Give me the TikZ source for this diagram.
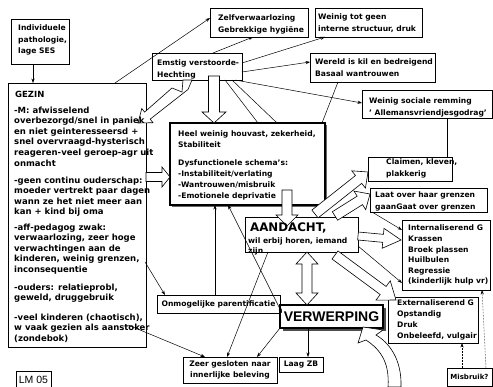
\documentclass[tikz,border=0pt]{standalone}
\usepackage{fontspec}
\setmainfont{DejaVu Sans}
\newfontfamily\vwfont{Liberation Sans}
\usetikzlibrary{calc,arrows.meta}
\tikzset{
 box/.style={draw=black, line width=0.6pt, anchor=north west, inner sep=0pt, outer sep=0pt, fill=white},
 txt/.style={anchor=north west, inner sep=0pt, align=left, font=\bfseries\fontsize{7.6}{11.5}\selectfont},
 txtm/.style={anchor=north west, inner sep=0pt, align=left, font=\bfseries\fontsize{7.6}{10.6}\selectfont},
 gtxt/.style={anchor=north west, inner sep=0pt, align=left, font=\bfseries\fontsize{8.5}{10.6}\selectfont},
 ctxt/.style={inner sep=0pt, align=center, font=\bfseries\fontsize{7.6}{11.5}\selectfont},
 con/.style={line width=0.5pt, -{Stealth[length=4.5pt,width=3.2pt]}},
 plainline/.style={line width=0.5pt},
 blk/.style={draw=black, fill=white, line width=0.6pt, line join=miter},
}
\newcommand\barrow[5]{%
 \coordinate (ba-s) at (#1);
 \coordinate (ba-e) at (#2);
 \coordinate (ba-h) at ($(ba-e)!#5!(ba-s)$);
 \filldraw[blk] ($(ba-s)!#3!90:(ba-e)$) -- ($(ba-h)!#3!90:(ba-e)$) -- ($(ba-h)!#4!90:(ba-e)$) -- (ba-e)
   -- ($(ba-h)!#4!-90:(ba-e)$) -- ($(ba-h)!#3!-90:(ba-e)$) -- ($(ba-s)!#3!-90:(ba-e)$) -- cycle;
}
\newcommand\dbarrow[5]{%
 \coordinate (db-s) at (#1);
 \coordinate (db-e) at (#2);
 \coordinate (db-h1) at ($(db-s)!#5!(db-e)$);
 \coordinate (db-h2) at ($(db-e)!#5!(db-s)$);
 \filldraw[blk] (db-s) -- ($(db-h1)!#4!90:(db-e)$) -- ($(db-h1)!#3!90:(db-e)$) -- ($(db-h2)!#3!90:(db-e)$)
   -- ($(db-h2)!#4!90:(db-e)$) -- (db-e) -- ($(db-h2)!#4!-90:(db-e)$) -- ($(db-h2)!#3!-90:(db-e)$)
   -- ($(db-h1)!#3!-90:(db-e)$) -- ($(db-h1)!#4!-90:(db-e)$) -- cycle;
}
\begin{document}
\begin{tikzpicture}[x=1pt,y=-1pt]
\useasboundingbox (0,0) rectangle (493,387);
\fill[white] (0,0) rectangle (493,387);
% ---------- boxes
\node[box, minimum width=58pt, minimum height=45pt] (indiv) at (11,19) {};
\node[box, minimum width=138pt, minimum height=264pt] (gezin) at (8,83) {};
\node[box, minimum width=98pt, minimum height=29pt] (zelf) at (210,8) {};
\node[box, minimum width=107pt, minimum height=29pt] (weinig) at (315,8) {};
\node[box, minimum width=90pt, minimum height=27pt] (emstig) at (152,53) {};
\node[box, minimum width=125pt, minimum height=29pt] (wereld) at (310,53) {};
\node[box, minimum width=130pt, minimum height=28pt] (sociale) at (362,90) {};
\fill[black!60] (172,125) rectangle (327,207);
\node[box, line width=1.4pt, minimum width=155pt, minimum height=82pt] (heel) at (170,123) {};
\node[box, minimum width=113pt, minimum height=35pt] (aandacht) at (245,217) {};
\node[box, minimum width=84pt, minimum height=24pt] (claimen) at (368,157) {};
\node[box, minimum width=117pt, minimum height=24pt] (laat) at (370,188) {};
\node[box, minimum width=88pt, minimum height=70pt] (intern) at (402,220) {};
\node[box, minimum width=90pt, minimum height=46pt] (extern) at (388,297) {};
\node[box, minimum width=45pt, minimum height=18pt] (misbruik) at (447,368) {};
\node[box, minimum width=123pt, minimum height=18pt] (onmog) at (157,295) {};
\fill[black!70] (283,308) rectangle (386,331);
\node[box, line width=2.2pt, minimum width=103pt, minimum height=23pt] (verwerp) at (280,305) {};
\node[box, minimum width=94pt, minimum height=26pt] (zeer) at (183,357) {};
\node[box, minimum width=44pt, minimum height=15pt] (laag) at (279,357) {};
\node[box, minimum width=35pt, minimum height=22pt] (lm) at (16,371) {};
% ---------- block arrows
\barrow{$(emstig.north west)+(62,23)$}{$(heel.north west)+(44,0)$}{5.5pt}{12pt}{11pt}
\barrow{$(gezin.north west)+(138,94)$}{$(heel.north west)+(0,54)$}{4.5pt}{10pt}{8pt}
\barrow{$(heel.north west)+(117,67)$}{$(aandacht.north west)+(42,9)$}{5pt}{11pt}{11pt}
\dbarrow{$(aandacht.north west)+(62,35)$}{$(verwerp.north west)+(27,0)$}{5pt}{11pt}{12pt}
\barrow{$(aandacht.north west)+(70,-3)$}{$(claimen.north west)+(0,15)$}{5pt}{11pt}{12pt}
\barrow{$(aandacht.north west)+(90,-1)$}{$(laat.north west)+(0,6)$}{5pt}{11pt}{12pt}
\barrow{$(aandacht.north west)+(113,19)$}{$(intern.north west)+(-1,20)$}{4pt}{10pt}{18pt}
\barrow{$(aandacht.north west)+(90,38)$}{$(extern.north west)+(8,3)$}{5pt}{12pt}{16pt}
% bent arrow from Emstig to Gezin
\filldraw[blk] ($(emstig.south west)+(31,0)$) -- ($(emstig.south west)+(30,12)$) -- ($(emstig.south west)+(20,8)$)
  -- ($(emstig.south west)+(-7.4,32.1)$) -- ($(emstig.south west)+(-10.2,28.5)$) -- ($(emstig.south west)+(-14,43)$)
  -- ($(emstig.south west)+(1,42.7)$) -- ($(emstig.south west)+(-1.8,39.1)$) -- ($(emstig.south west)+(36,9.5)$)
  -- ($(emstig.south west)+(40,0)$) -- cycle;
% curved arrow into Verwerping
\filldraw[blk] ($(verwerp.south east)+(-20,-1)$) -- ($(verwerp.south east)+(-25,15)$) -- ($(verwerp.south east)+(-17,12)$)
  .. controls ($(verwerp.south east)+(-5,20)$) and ($(verwerp.south east)+(7,32)$) .. ($(verwerp.south east)+(5,59)$)
  -- ($(verwerp.south east)+(18,59)$)
  .. controls ($(verwerp.south east)+(19,30)$) and ($(verwerp.south east)+(5,14)$) .. ($(verwerp.south east)+(-7,7)$)
  -- ($(verwerp.south east)+(0,2)$) -- cycle;
% ---------- texts
\node[txt] (indiv-t) at (18,25) {Individuele\\pathologie,\\lage SES};
\node[gtxt] (gezin-t0) at (15,90.5) {GEZIN};
\node[gtxt] (gezin-t1) at (14,106.5) {-M: afwisselend\\overbezorgd/snel in paniek\\en niet geinteresseersd +\\snel overvraagd-hysterisch\\reageren-veel geroep-agr uit\\onmacht};
\node[gtxt] (gezin-t2) at (14,176.5) {-geen continu ouderschap:\\moeder vertrekt paar dagen\\wann ze het niet meer aan\\kan + kind bij oma};
\node[gtxt] (gezin-t3) at (14,223.5) {-aff-pedagog zwak:\\verwaarlozing, zeer hoge\\verwachtingen aan de\\kinderen, weinig grenzen,\\inconsequentie};
\node[gtxt] (gezin-t4) at (14,283.5) {-ouders: relatieprobl,\\geweld, druggebruik};
\node[gtxt] (gezin-t5) at (14,313.5) {-veel kinderen (chaotisch),\\w vaak gezien als aanstoker\\(zondebok)};
\node[txt] (zelf-t) at (218,15) {Zelfverwaarlozing\\Gebrekkige hygiëne};
\node[txt] (weinig-t) at (318,14) {Weinig tot geen\\interne structuur, druk};
\node[txt] (emstig-t) at (157,60) {Emstig verstoorde-\\Hechting};
\node[txt] (wereld-t) at (315,59) {Wereld is kil en bedreigend\\Basaal wantrouwen};
\node[txt] (sociale-t) at (369,98) {Weinig sociale remming\\' Allemansvriendjesgodrag'};
\node[anchor=north west, inner sep=0pt, align=left, font=\bfseries\fontsize{7.6}{10.8}\selectfont] (heel-t) at (178,131)
  {Heel weinig houvast, zekerheid,\\Stabiliteit\\[7.4pt]Dysfunctionele schema's:\\-Instabiliteit/verlating\\-Wantrouwen/misbruik\\-Emotionele deprivatie};
\node[anchor=north west, inner sep=0pt, font=\bfseries\fontsize{11.8}{12}\selectfont] (aandacht-t1) at (250,223) {AANDACHT,};
\node[anchor=north west, inner sep=0pt, align=left, font=\bfseries\fontsize{7.6}{10}\selectfont] (aandacht-t2) at (248,238) {wil erbij horen, iemand\\zijn};
\node[txt] (claimen-t) at (386,159) {Claimen, kleven,\\plakkerig};
\node[txt] (laat-t) at (375,192) {Laat over haar grenzen\\gaanGaat over grenzen};
\node[txtm] (intern-t) at (408,225) {Internaliserend G\\Krassen\\Broek plassen\\Huilbulen\\Regressie\\(kinderlijk hulp vr)};
\node[anchor=north west, inner sep=0pt, align=left, font=\bfseries\fontsize{7.6}{11}\selectfont] (extern-t) at (397,300) {Externaliserend G\\Opstandig\\Druk\\Onbeleefd, vulgair};
\node[inner sep=0pt, font=\bfseries\fontsize{7}{8}\selectfont] (misbruik-t) at (misbruik.center) {Misbruik?};
\node[ctxt] (onmog-t) at (onmog.center) {Onmogelijke parentificatie};
\node[inner sep=0pt, font=\vwfont\bfseries\fontsize{14}{14}\selectfont] (verwerp-t) at (verwerp.center) {VERWERPING};
\node[ctxt] (zeer-t) at (zeer.center) {Zeer gesloten naar\\innerlijke beleving};
\node[ctxt] (laag-t) at (laag.center) {Laag ZB};
\node[inner sep=0pt, font=\vwfont\fontsize{10.5}{10.5}\selectfont] (lm-t) at ($(lm.north)+(0,9)$) {LM 05};
% ---------- connectors
\draw[con] ($(indiv.north west)+(22,45)$) -- ($(gezin.north west)+(25,0)$);
\draw[con] ($(gezin.north west)+(107,0)$) -- ($(zelf.north west)+(0,10)$);
\draw[con] ($(emstig.north west)+(61,0)$) -- ($(zelf.north west)+(43,29)$);
\draw[con] ($(emstig.north west)+(90,10)$) -- ($(weinig.north west)+(10,29)$);
\draw[con] ($(emstig.north west)+(90,19)$) -- ($(wereld.north west)+(0,9)$);
\draw[con] ($(emstig.north west)+(83,27)$) -- ($(sociale.north west)+(0,13)$);
\draw[plainline] ($(emstig.north west)+(73,27)$) -- ($(heel.north west)+(88,0)$);
\draw[plainline] ($(emstig.north west)+(80,27)$) -- ($(heel.north west)+(107,0)$);
\draw[plainline] ($(wereld.north west)+(28,29)$) -- ($(heel.north west)+(152,0)$);
\draw[plainline] ($(sociale.north west)+(85,28)$) -- ($(claimen.north west)+(79,0)$);
\draw[con] ($(gezin.north west)+(137,179)$) -- ($(onmog.north west)+(8,0)$);
\draw[con] ($(gezin.north west)+(120,242)$) -- ($(zeer.north west)+(22,0)$);
\draw[con] ($(onmog.north west)+(58,0)$) -- ($(heel.north west)+(45,82)$);
\draw[con, {Stealth[length=4.5pt,width=3.2pt]}-{Stealth[length=4.5pt,width=3.2pt]}] ($(heel.north west)+(58,82)$) -- ($(verwerp.north west)+(2,8)$);
\draw[con] ($(aandacht.north west)+(23,35)$) -- ($(zeer.north west)+(44,0)$);
\draw[con] (verwerp.south west) -- ($(zeer.north west)+(74,0)$);
\draw[con] ($(verwerp.north west)+(28,23)$) -- ($(laag.north west)+(29,0)$);
\draw[con] ($(aandacht.north west)+(113,29)$) -- ($(intern.north west)+(0,63)$);
\draw[con] ($(laat.north west)+(2,24)$) -- ($(intern.north west)+(0,10)$);
\draw[con, densely dotted] ($(misbruik.north west)+(15,0)$) -- ($(extern.north west)+(74,46)$);
\draw[con, densely dotted] ($(misbruik.north west)+(39,0)$) -- ($(intern.north west)+(80,70)$);
\end{tikzpicture}
\end{document}
